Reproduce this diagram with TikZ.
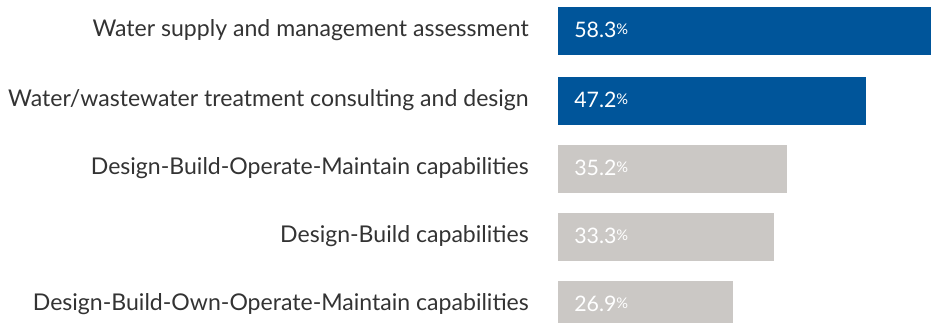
\documentclass[tikz,border=0pt]{standalone}
\usepackage{fontspec}
\setmainfont{Lato}
\usetikzlibrary{positioning}

\definecolor{barblue}{HTML}{00559A}
\definecolor{bargray}{HTML}{CBC8C5}
\definecolor{labelgray}{HTML}{333333}

\newcommand\pctsign{{\fontsize{11}{12}\selectfont\raisebox{2.6pt}{\%}}}

\tikzset{
  bar/.style={anchor=north west, inner sep=0pt, minimum height=36pt},
  rowlabel/.style={anchor=base east, inner sep=0pt, text=labelgray,
    font=\fontsize{17.3}{20}\selectfont},
  pctlabel/.style={anchor=base west, inner sep=0pt, text=white,
    font=\fontsize{16}{19}\selectfont}
}

\begin{document}
\begin{tikzpicture}[x=0.75pt,y=-0.75pt]
\clip (0,0) rectangle (931,323);

%% rows: top edge / bar length / colour / value / label
\foreach \i/\t/\w/\c/\v/\txt in {
  1/7/373/barblue/58.3/Water supply and management assessment,
  2/77/308/barblue/47.2/Water\slash wastewater treatment consulting and design,
  3/145/229/bargray/35.2/Design-Build-Operate-Maintain capabilities,
  4/213/216/bargray/33.3/Design-Build capabilities,
  5/281/175/bargray/26.9/Design-Build-Own-Operate-Maintain capabilities}{
  \coordinate (c\i) at (558,\t);
  \node[bar, fill=\c, minimum width=0.75*\w pt] (b\i) at (c\i) {};
  \node[rowlabel] (l\i) at (529,\t+30) {\txt};
  \node[pctlabel] (p\i) at (574,\t+31) {\v\pctsign};
}

\end{tikzpicture}
\end{document}
